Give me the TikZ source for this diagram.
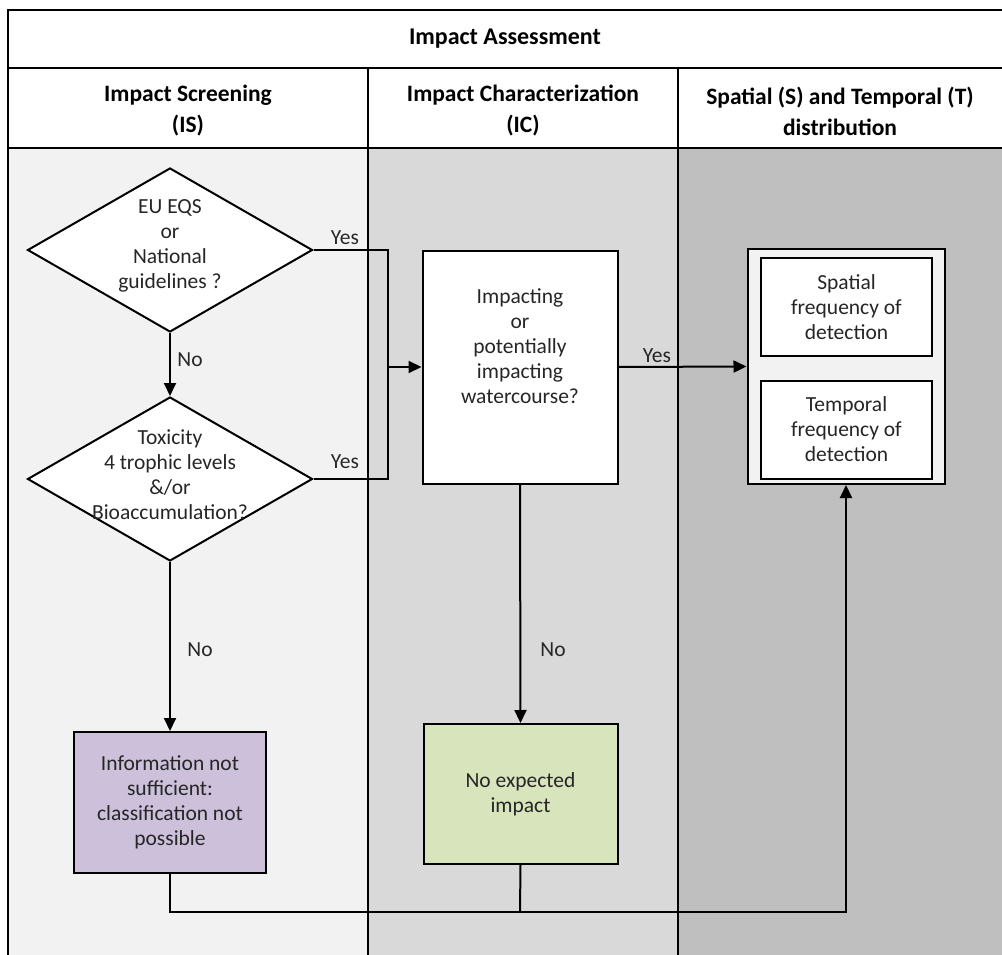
\documentclass[tikz,border=0pt]{standalone}
\usepackage{fontspec}
\setmainfont{Carlito}
\usetikzlibrary{shapes.geometric,arrows.meta}
\definecolor{laneA}{HTML}{F2F2F2}
\definecolor{laneB}{HTML}{D9D9D9}
\definecolor{laneC}{HTML}{BFBFBF}
\definecolor{purplebox}{HTML}{CCC0DA}
\definecolor{greenbox}{HTML}{D8E4BC}
\definecolor{ink}{HTML}{262626}
\begin{document}
\begin{tikzpicture}[x=1pt, y=-1pt, line width=2pt,
        >={Triangle[length=13pt,width=12pt]},
        body/.style={font=\fontsize{21.5}{25}\selectfont, align=center, text=ink},
        headtext/.style={font=\bfseries\fontsize{23.5}{31}\selectfont, align=center},
        decision/.style={diamond, draw, fill=white, minimum width=285pt, minimum height=164pt, inner sep=0pt},
        process/.style={rectangle, draw, body, inner sep=0pt},
        answer/.style={body, inner sep=1pt}]
        \useasboundingbox (0, 0) rectangle (1002, 955);
        % lanes
        \fill [laneA] (8, 148) rectangle (368, 955);
        \fill [laneB] (368, 148) rectangle (678, 955);
        \fill [laneC] (678, 148) rectangle (1002, 955);
        \draw (8, 955) -- (8, 10) -- (1002, 10);
        \draw (8, 68) -- (1002, 68);
        \draw (8, 148) -- (1002, 148);
        \draw (368, 68) -- (368, 955);
        \draw (678, 68) -- (678, 955);
        % headers
        \node [headtext, font=\bfseries\fontsize{24}{30}\selectfont] (title) at (505, 39) {Impact Assessment};
        \node [headtext] (is) at (188, 111) {Impact Screening\\(IS)};
        \node [headtext] (ic) at (523, 111) {Impact Characterization\\(IC)};
        \node [headtext] (st) at (840, 111) {Spatial (S) and Temporal (T)\\distribution};
        % screening
        \node [decision] (eqs) at (170, 250) {};
        \node [body] (eqstext) at (170, 246) {EU EQS\\or\\National\\guidelines ?};
        \node [decision] (tox) at (170, 479) {};
        \node [body] (toxtext) at (170, 475) {Toxicity\\4 trophic levels\\\&/or\\Bioaccumulation?};
        \node [process, fill=purplebox, minimum width=192pt, minimum height=141pt] (info) at (170, 802.5) {Information not\\sufficient:\\classification not\\possible};
        % characterization
        \node [process, fill=white, minimum width=195pt, minimum height=233pt] (impact) at (520, 367) {Impacting\\or\\potentially\\impacting\\watercourse?\\[16pt]};
        \node [process, fill=greenbox, minimum width=194pt, minimum height=140pt] (noimpact) at (520.5, 794) {No expected\\impact};
        % distribution
        \node [process, fill=laneA, minimum width=197pt, minimum height=235pt] (freq) at (846, 366.5) {};
        \node [process, fill=white, minimum width=171pt, minimum height=98pt] (spatial) at (846.5, 307) {Spatial\\frequency of\\detection};
        \node [process, fill=white, minimum width=171pt, minimum height=98pt] (temporal) at (846.5, 429.5) {Temporal\\frequency of\\detection};
        % connectors
        \coordinate (merge) at (388, 367);
        \coordinate (join) at (520, 912);
        \draw (eqs.east) -| (merge) |- (tox.east);
        \draw [->] (merge) -- (impact.west);
        \draw [->] (eqs.south) -- (tox.north);
        \draw [->] (tox.south) -- (info.north);
        \draw [->] (impact.south) -- (noimpact.north);
        \draw [->] (impact.east) -- (freq.west);
        \draw (noimpact.south) -- (join);
        \draw [->] (info.south) |- (join) -| (freq.south);
        % labels
        \node [answer] (yes1) at (345, 238) {Yes};
        \node [answer] (yes2) at (345, 462) {Yes};
        \node [answer] (yes3) at (657, 356) {Yes};
        \node [answer] (no1) at (190, 360) {No};
        \node [answer] (no2) at (200, 650) {No};
        \node [answer] (no3) at (553, 650) {No};
    \end{tikzpicture}
\end{document}
